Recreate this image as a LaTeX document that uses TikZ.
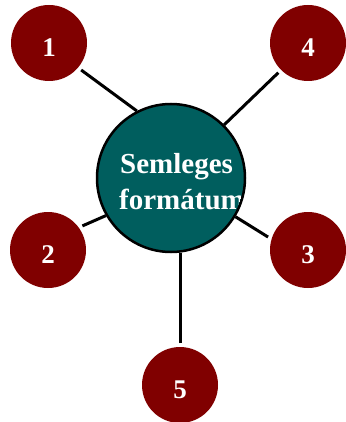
\documentclass[tikz,border=0pt]{standalone}
\usepackage{fontspec}
\setmainfont{Liberation Serif}
\definecolor{maroonc}{RGB}{128,0,0}
\definecolor{tealc}{RGB}{0,94,94}
\begin{document}
\begin{tikzpicture}[x=1pt,y=-1pt,
  small/.style={circle,fill=maroonc,draw=none,minimum size=76pt,inner sep=0pt,outer sep=4pt,
    text=white,font=\bfseries\fontsize{27}{27}\selectfont,text height=27pt},
  link/.style={line width=3pt,black},
  centertext/.style={anchor=base west,inner sep=0pt,text=white,font=\bfseries\fontsize{29}{29}\selectfont}]
\useasboundingbox (0,0) rectangle (345,422);
\node[small] (n1) at (49,43) {1};
\node[small] (n4) at (308,43) {4};
\node[small] (n2) at (48,250) {2};
\node[small] (n3) at (308,250) {3};
\node[small] (n5) at (180,385) {5};
\node[circle,fill=tealc,draw=black,line width=2.5pt,minimum size=148pt,inner sep=0pt] (c) at (171,178) {};
\begin{scope}
  \clip (171,178) circle (72pt);
  \node[centertext] (t1) at (120,173) {Semleges};
  \node[centertext] (t2) at (119,209) {formátum};
\end{scope}
\draw[link] (n1.-40) -- (c.117.6);
\draw[link] (n4.-135) -- (c.45);
\draw[link] (n2.35.5) -- (c.-150.4);
\draw[link] (n3.162) -- (c.-31.4);
\draw[link] (n5.north) -- (n5.north |- c.-84);
\end{tikzpicture}
\end{document}
